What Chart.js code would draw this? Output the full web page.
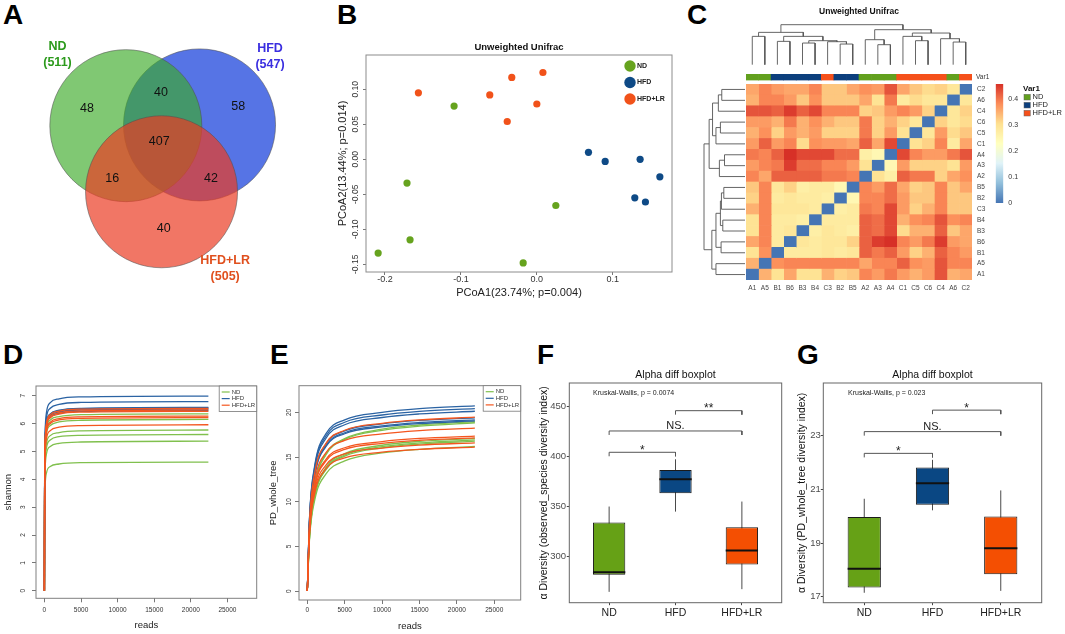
<!DOCTYPE html>
<html>
<head>
<meta charset="utf-8">
<title>Figure</title>
<script src="https://cdn.jsdelivr.net/npm/chart.js@4.4.1/dist/chart.umd.min.js"></script>
<style>
  body { margin: 0; width: 1065px; height: 634px; background: #fff; position: relative; overflow: hidden; }
  canvas { position: absolute; }
  .tag { position: absolute; font: bold 28px "Liberation Sans", Arial, sans-serif; line-height: 28px; color: #000; }
</style>
</head>
<body>
<div class="tag" style="left:3px;top:1px">A</div>
<div class="tag" style="left:337px;top:1px">B</div>
<div class="tag" style="left:687px;top:1px">C</div>
<div class="tag" style="left:3px;top:341px">D</div>
<div class="tag" style="left:270px;top:341px">E</div>
<div class="tag" style="left:537px;top:341px">F</div>
<div class="tag" style="left:797px;top:341px">G</div>

<canvas id="venn" width="330" height="270" style="left:0;top:30px"></canvas>
<canvas id="pcoa" width="368" height="280" style="left:332px;top:30px"></canvas>
<canvas id="colTree" width="226" height="66" style="left:746px;top:0"></canvas>
<canvas id="annot" width="260" height="12" style="left:746px;top:72px"></canvas>
<canvas id="rowTree" width="46" height="196" style="left:700px;top:84px"></canvas>
<canvas id="heat" width="260" height="212" style="left:746px;top:84px"></canvas>
<canvas id="cbar" width="70" height="130" style="left:995px;top:80px"></canvas>
<canvas id="shannon" width="265" height="264" style="left:0;top:370px"></canvas>
<canvas id="pd" width="265" height="264" style="left:265px;top:370px"></canvas>
<canvas id="boxObs" width="253" height="279" style="left:537px;top:355px"></canvas>
<canvas id="boxPd" width="269" height="279" style="left:796px;top:355px"></canvas>

<script>
// ---------- data ----------
const groups = ['ND', 'HFD', 'HFD+LR'];

// A: venn
const vennTotals = [511, 547, 505];
// ND only, ND&HFD, HFD only, all three, ND&HFD+LR, HFD&HFD+LR, HFD+LR only
const vennCounts = [48, 40, 58, 407, 16, 42, 40];

// B: PCoA
const pcoaNdX = [-0.109, -0.171, 0.025, -0.167, -0.209, -0.018];
const pcoaNdY = [0.076, -0.034, -0.066, -0.115, -0.134, -0.148];
const pcoaHfdX = [0.068, 0.090, 0.136, 0.162, 0.129, 0.143];
const pcoaHfdY = [0.010, -0.003, 0.000, -0.025, -0.055, -0.061];
const pcoaLrX = [-0.156, -0.062, -0.033, 0.008, 0.000, -0.039];
const pcoaLrY = [0.095, 0.092, 0.117, 0.124, 0.079, 0.054];
const pcoaXTicks = [-0.2, -0.1, 0, 0.1];
const pcoaYTicks = [-0.15, -0.1, -0.05, 0, 0.05, 0.1];

// C: unweighted unifrac distance heatmap
const heatCols = ['A1','A5','B1','B6','B3','B4','C3','B2','B5','A2','A3','A4','C1','C5','C6','C4','A6','C2'];
const heatRows = ['C2','A6','C4','C6','C5','C1','A4','A3','A2','B5','B2','C3','B4','B3','B6','B1','A5','A1'];
const heatValues = [
  [0.36,0.39,0.37,0.36,0.36,0.39,0.33,0.33,0.36,0.38,0.37,0.43,0.36,0.33,0.31,0.32,0.29,0],
  [0.35,0.39,0.39,0.37,0.33,0.38,0.33,0.33,0.33,0.36,0.30,0.40,0.28,0.31,0.29,0.29,0,0.29],
  [0.43,0.43,0.42,0.45,0.42,0.44,0.39,0.39,0.39,0.32,0.33,0.37,0.39,0.37,0.32,0,0.29,0.32],
  [0.37,0.37,0.35,0.40,0.35,0.38,0.35,0.33,0.33,0.40,0.32,0.35,0.32,0.29,0,0.32,0.29,0.31],
  [0.35,0.38,0.32,0.37,0.35,0.37,0.32,0.32,0.32,0.40,0.32,0.37,0.30,0,0.29,0.37,0.31,0.33],
  [0.37,0.42,0.37,0.39,0.31,0.38,0.37,0.37,0.36,0.42,0.36,0.44,0,0.30,0.32,0.39,0.28,0.36],
  [0.40,0.39,0.42,0.46,0.44,0.44,0.44,0.41,0.41,0.27,0.25,0,0.44,0.39,0.37,0.37,0.40,0.43],
  [0.37,0.39,0.40,0.45,0.41,0.41,0.39,0.39,0.37,0.30,0,0.25,0.37,0.32,0.32,0.32,0.30,0.37],
  [0.39,0.36,0.42,0.42,0.42,0.42,0.40,0.40,0.39,0,0.30,0.27,0.42,0.40,0.40,0.32,0.36,0.38],
  [0.33,0.39,0.29,0.32,0.27,0.28,0.28,0.25,0,0.39,0.37,0.41,0.36,0.32,0.33,0.39,0.33,0.36],
  [0.32,0.39,0.28,0.29,0.28,0.28,0.27,0,0.25,0.39,0.39,0.41,0.37,0.33,0.33,0.39,0.33,0.33],
  [0.35,0.39,0.29,0.29,0.29,0.28,0,0.27,0.28,0.40,0.39,0.44,0.37,0.32,0.35,0.39,0.33,0.33],
  [0.30,0.39,0.28,0.28,0.27,0,0.28,0.28,0.28,0.42,0.41,0.44,0.35,0.38,0.39,0.43,0.38,0.39],
  [0.30,0.39,0.28,0.29,0,0.27,0.29,0.28,0.27,0.42,0.41,0.44,0.31,0.35,0.35,0.42,0.33,0.36],
  [0.36,0.39,0.28,0,0.29,0.28,0.29,0.29,0.32,0.42,0.45,0.46,0.39,0.37,0.40,0.45,0.37,0.36],
  [0.30,0.38,0,0.28,0.28,0.28,0.29,0.28,0.29,0.42,0.40,0.42,0.37,0.32,0.35,0.42,0.39,0.37],
  [0.35,0,0.38,0.39,0.39,0.39,0.39,0.39,0.39,0.36,0.39,0.39,0.42,0.38,0.37,0.43,0.39,0.39],
  [0,0.35,0.30,0.36,0.30,0.30,0.35,0.32,0.33,0.39,0.37,0.40,0.37,0.35,0.37,0.43,0.35,0.36]
];
// hclust-style merges over heatCols: negative = leaf (1-based), positive = earlier merge; third value = height
const treeMerges = [
  [-1, -2, 85], [-3, -4, 70], [-5, -6, 65], [-8, -9, 62], [-7, 4, 69], [3, 5, 72],
  [2, 6, 85], [1, 7, 97], [-11, -12, 60], [-10, 9, 75], [-14, -15, 72], [-13, 11, 85],
  [-17, -18, 68], [-16, 13, 78], [12, 14, 95], [10, 15, 105], [8, 16, 120]
];
const colorbarTicks = [0, 0.1, 0.2, 0.3, 0.4];

// D: shannon rarefaction
const shannonReads = [0, 30, 100, 300, 800, 2000, 5000, 22400];
const shannonNd = [
  [0, 3.94, 5.21, 5.84, 6.13, 6.25, 6.32, 6.35],
  [0, 3.81, 5.04, 5.66, 5.93, 6.06, 6.12, 6.15],
  [0, 3.58, 4.73, 5.31, 5.57, 5.68, 5.74, 5.77],
  [0, 3.48, 4.60, 5.16, 5.41, 5.53, 5.58, 5.61],
  [0, 3.33, 4.40, 4.94, 5.18, 5.29, 5.34, 5.37],
  [0, 2.86, 3.79, 4.25, 4.46, 4.55, 4.60, 4.62]
];
const shannonHfd = [
  [0, 4.33, 5.73, 6.43, 6.75, 6.89, 6.96, 6.99],
  [0, 4.21, 5.57, 6.25, 6.55, 6.69, 6.76, 6.79],
  [0, 4.08, 5.40, 6.05, 6.35, 6.48, 6.55, 6.58],
  [0, 4.07, 5.38, 6.04, 6.33, 6.46, 6.53, 6.56],
  [0, 4.04, 5.35, 6.00, 6.29, 6.42, 6.49, 6.52],
  [0, 4.01, 5.31, 5.95, 6.24, 6.37, 6.44, 6.47]
];
const shannonLr = [
  [0, 4.06, 5.37, 6.03, 6.32, 6.45, 6.52, 6.55],
  [0, 4.02, 5.32, 5.97, 6.26, 6.39, 6.46, 6.49],
  [0, 3.99, 5.28, 5.92, 6.21, 6.34, 6.41, 6.44],
  [0, 3.89, 5.14, 5.77, 6.05, 6.18, 6.24, 6.27],
  [0, 3.86, 5.10, 5.72, 6.00, 6.13, 6.19, 6.22],
  [0, 3.70, 4.89, 5.48, 5.75, 5.87, 5.93, 5.96]
];
const shannonTicks = [0, 1, 2, 3, 4, 5, 6, 7];

// E: PD_whole_tree rarefaction
const pdReads = [0, 300, 1000, 2500, 5000, 10000, 15000, 22400];
const pdNd = [
  [0, 6.83, 11.96, 15.37, 17.08, 18.13, 18.60, 18.98],
  [0, 6.79, 11.88, 15.27, 16.97, 18.00, 18.47, 18.85],
  [0, 6.16, 10.77, 13.85, 15.39, 16.33, 16.76, 17.10],
  [0, 6.09, 10.67, 13.71, 15.24, 16.17, 16.59, 16.93],
  [0, 6.05, 10.58, 13.61, 15.12, 16.04, 16.46, 16.80],
  [0, 5.83, 10.21, 13.12, 14.58, 15.47, 15.88, 16.20]
];
const pdHfd = [
  [0, 8.30, 14.10, 17.63, 19.18, 20.01, 20.43, 20.74],
  [0, 8.18, 13.90, 17.37, 18.91, 19.72, 20.13, 20.44],
  [0, 8.06, 13.70, 17.12, 18.63, 19.44, 19.84, 20.14],
  [0, 7.76, 13.19, 16.49, 17.95, 18.72, 19.11, 19.40],
  [0, 7.67, 13.04, 16.29, 17.73, 18.50, 18.88, 19.17],
  [0, 7.62, 12.95, 16.19, 17.62, 18.38, 18.76, 19.05]
];
const pdLr = [
  [0, 7.79, 13.24, 16.55, 18.01, 18.79, 19.18, 19.47],
  [0, 7.30, 12.40, 15.50, 16.87, 17.60, 17.97, 18.24],
  [0, 6.94, 11.80, 14.75, 16.05, 16.74, 17.09, 17.35],
  [0, 6.86, 11.66, 14.58, 15.86, 16.55, 16.89, 17.15],
  [0, 6.64, 11.29, 14.11, 15.36, 16.02, 16.35, 16.60],
  [0, 6.45, 10.96, 13.70, 14.91, 15.56, 15.88, 16.12]
];
const pdTicks = [0, 5, 10, 15, 20];
const readsTicks = [0, 5000, 10000, 15000, 20000, 25000];

// F: observed species boxplot
const obsMin = [264, 344.6, 266.7];
const obsQ1 = [281.1, 363, 291.5];
const obsMedian = [283.8, 377.1, 305.5];
const obsQ3 = [333.6, 386.5, 328.9];
const obsMax = [349.7, 397.2, 354.7];
const obsTicks = [300, 350, 400, 450];
const obsBracketY = [404.2, 425.6, 446];
const obsSig = ['*', 'NS.', '**'];

// G: PD whole tree boxplot
const pdBoxMin = [17.15, 20.22, 17.22];
const pdBoxQ1 = [17.35, 20.43, 17.84];
const pdBoxMedian = [18.04, 21.23, 18.81];
const pdBoxQ3 = [19.97, 21.81, 19.99];
const pdBoxMax = [20.65, 22.1, 20.96];
const pdBoxTicks = [17, 19, 21, 23];
const pdBracketY = [22.34, 23.15, 23.95];
const pdSig = ['*', 'NS.', '*'];

const comparePairs = [[1, 2], [1, 3], [2, 3]];

// ---------- setup ----------
const FONT = '"Liberation Sans", Arial, sans-serif';
Chart.defaults.font.family = FONT;
Chart.defaults.color = '#222';
Chart.defaults.animation = false;
Chart.defaults.responsive = false;
Chart.defaults.events = [];
Chart.defaults.layout.autoPadding = false;
Chart.defaults.plugins.legend.display = false;
Chart.defaults.plugins.tooltip.enabled = false;

const el = id => document.getElementById(id);
const pts = (xs, ys) => xs.map((x, i) => ({ x: x, y: ys[i] }));
const setTicks = vals => s => { s.ticks = vals.map(v => ({ value: v })); };
const noPad = s => { s.paddingTop = 0; s.paddingBottom = 0; s.paddingLeft = 0; s.paddingRight = 0; };
const fixW = w => s => { s.width = w; noPad(s); };
const fixH = h => s => { s.height = h; noPad(s); };

function frame(color) {
  return { id: 'frame', afterDatasetsDraw(chart) {
    const { ctx, chartArea: a } = chart;
    ctx.save();
    ctx.strokeStyle = color;
    ctx.lineWidth = 1;
    ctx.strokeRect(a.left, a.top, a.right - a.left, a.bottom - a.top);
    ctx.restore();
  }};
}

function notes(items) {
  return { id: 'notes', afterDraw(chart) {
    const ctx = chart.ctx;
    ctx.save();
    items.forEach(t => {
      const x = t.px ? t.x : chart.scales.x.getPixelForValue(t.x);
      const y = t.px ? t.y : chart.scales.y.getPixelForValue(t.y);
      ctx.font = t.font;
      ctx.fillStyle = t.color || '#000';
      ctx.textAlign = t.align || 'center';
      ctx.textBaseline = t.base || 'middle';
      ctx.fillText(t.text, x, y + (t.dy || 0));
    });
    ctx.restore();
  }};
}

// ---------- A: venn ----------
const vennR = 76;  // px, also one venn unit
const vennCenters = [[-0.48, 0.29], [0.49, 0.30], [-0.01, -0.58]];
const vennFill = ['rgba(60,170,40,0.65)', 'rgba(30,70,220,0.75)', 'rgba(235,60,35,0.7)'];
const vennInk = ['#2c9a1c', '#3a2ee0', '#e0501e'];
const vennSpots = [[-0.99, 0.52], [-0.017, 0.73], [1.00, 0.54], [-0.04, 0.08], [-0.66, -0.40], [0.64, -0.40], [0.02, -1.07]];
const vennNameSpots = [[-1.379, 1.325], [1.417, 1.299], [0.827, -1.49]];

const vennNotes = [];
vennCounts.forEach((n, i) => vennNotes.push({ x: vennSpots[i][0], y: vennSpots[i][1], text: String(n), font: '12.5px ' + FONT, color: '#111' }));
groups.forEach((g, i) => {
  vennNotes.push({ x: vennNameSpots[i][0], y: vennNameSpots[i][1], text: g, font: 'bold 12.5px ' + FONT, color: vennInk[i] });
  vennNotes.push({ x: vennNameSpots[i][0], y: vennNameSpots[i][1] - 0.205, text: '(' + vennTotals[i] + ')', font: 'bold 12.5px ' + FONT, color: vennInk[i] });
});

new Chart(el('venn'), {
  type: 'bubble',
  data: { datasets: groups.map((g, i) => ({
    label: g,
    data: [{ x: vennCenters[i][0], y: vennCenters[i][1], r: vennR }],
    backgroundColor: vennFill[i],
    borderColor: 'rgba(80,80,80,0.55)',
    borderWidth: 1,
    order: [1, 2, 0][i],
    clip: false
  })) },
  options: {
    layout: { padding: 0 },
    scales: {
      x: { display: false, min: -162.3 / vennR, max: (330 - 162.3) / vennR },
      y: { display: false, min: -(270 - 117.7) / vennR, max: 117.7 / vennR }
    }
  },
  plugins: [notes(vennNotes)]
});

// ---------- B: PCoA ----------
const pcoaColors = ['#66a31e', '#0e4a86', '#f1521a'];
const pcoaKey = { id: 'pcoaKey', afterDraw(chart) {
  const { ctx, chartArea: a } = chart;
  ctx.save();
  groups.forEach((g, i) => {
    const y = a.top + 11 + i * 16.5;
    ctx.beginPath();
    ctx.arc(a.right - 42, y, 5.7, 0, Math.PI * 2);
    ctx.fillStyle = pcoaColors[i];
    ctx.fill();
    ctx.font = 'bold 7px ' + FONT;
    ctx.fillStyle = '#222';
    ctx.textAlign = 'left';
    ctx.textBaseline = 'middle';
    ctx.fillText(g, a.right - 35, y);
  });
  ctx.restore();
}};

new Chart(el('pcoa'), {
  type: 'scatter',
  data: { datasets: [
    { label: 'ND', data: pts(pcoaNdX, pcoaNdY), backgroundColor: pcoaColors[0], pointRadius: 3.6, borderWidth: 0 },
    { label: 'HFD', data: pts(pcoaHfdX, pcoaHfdY), backgroundColor: pcoaColors[1], pointRadius: 3.6, borderWidth: 0 },
    { label: 'HFD+LR', data: pts(pcoaLrX, pcoaLrY), backgroundColor: pcoaColors[2], pointRadius: 3.6, borderWidth: 0 }
  ]},
  options: {
    layout: { padding: { left: 0, right: 28, top: 0, bottom: 0 } },
    plugins: {
      title: { display: true, text: 'Unweighted Unifrac', fullSize: false, color: '#111',
               font: { size: 9.5, weight: 'bold' }, padding: { top: 11.3, bottom: 2.3 } }
    },
    scales: {
      x: { type: 'linear', min: -0.225, max: 0.178, afterBuildTicks: setTicks(pcoaXTicks), afterFit: fixH(38),
           ticks: { font: { size: 9 }, color: '#333', padding: -1, callback: v => v.toFixed(1) },
           grid: { drawOnChartArea: false, tickLength: 3, color: '#777' }, border: { display: false },
           title: { display: true, text: 'PCoA1(23.74%; p=0.004)', color: '#222', font: { size: 11 }, padding: { top: 0, bottom: 10.4 } } },
      y: { min: -0.161, max: 0.149, afterBuildTicks: setTicks(pcoaYTicks), afterFit: fixW(34),
           ticks: { font: { size: 8.5 }, color: '#333', minRotation: 90, maxRotation: 90, crossAlign: 'center', padding: -2.2,
                    callback: v => v.toFixed(2) },
           grid: { drawOnChartArea: false, tickLength: 3, color: '#777' }, border: { display: false },
           title: { display: true, text: 'PCoA2(13.44%; p=0.014)', color: '#222', font: { size: 11 }, padding: { top: 4.4, bottom: 0 } } }
    }
  },
  plugins: [frame('#8c8c8c'), pcoaKey]
});

// ---------- C: heatmap ----------
const heatPalette = [[69,117,180],[145,191,219],[224,243,248],[255,255,191],[254,224,144],[252,141,89],[215,48,39]];
const heatMax = 0.46;
function heatColor(v) {
  const t = Math.max(0, Math.min(1, v / heatMax)) * (heatPalette.length - 1);
  const k = Math.min(Math.floor(t), heatPalette.length - 2), f = t - k;
  const a = heatPalette[k], b = heatPalette[k + 1];
  return 'rgb(' + a.map((c, m) => Math.round(c + (b[m] - c) * f)).join(',') + ')';
}
const sampleGroup = { A: 'ND', B: 'HFD', C: 'HFD+LR' };
const annotColors = { 'ND': '#62a01e', 'HFD': '#0c3f7d', 'HFD+LR': '#f5501a' };

function treeSegments(merges) {
  const pos = [], hgt = [], segs = [];
  const at = ref => ref < 0 ? [-ref - 0.5, 0] : [pos[ref - 1], hgt[ref - 1]];
  merges.forEach(([a, b, h], k) => {
    const [xa, ha] = at(a), [xb, hb] = at(b);
    pos[k] = (xa + xb) / 2;
    hgt[k] = h;
    segs.push([[xa, ha], [xa, h], [xb, h], [xb, hb]]);
  });
  return segs;
}
const segs = treeSegments(treeMerges);
const treeLine = { showLine: true, borderColor: '#555', borderWidth: 0.9, pointRadius: 0, clip: false };

new Chart(el('colTree'), {
  type: 'scatter',
  data: { datasets: segs.map(s => Object.assign({ data: s.map(p => ({ x: p[0], y: p[1] })) }, treeLine)) },
  options: {
    layout: { padding: { top: 0, bottom: 1.3, left: 0, right: 0 } },
    plugins: { title: { display: true, text: 'Unweighted Unifrac', fullSize: false, color: '#111',
                        font: { size: 8.5, weight: 'bold' }, padding: { top: 6.9, bottom: 7.6 } } },
    scales: { x: { display: false, min: 0, max: 18 }, y: { display: false, min: 0, max: 120 } }
  }
});

new Chart(el('rowTree'), {
  type: 'scatter',
  data: { datasets: segs.map(s => Object.assign({ data: s.map(p => ({ x: p[1], y: p[0] })) }, treeLine)) },
  options: {
    layout: { padding: { top: 0, bottom: 0, left: 4, right: 1 } },
    scales: { x: { display: false, min: 0, max: 120, reverse: true }, y: { display: false, min: 0, max: 18 } }
  }
});

new Chart(el('annot'), {
  type: 'bar',
  data: { labels: heatCols, datasets: [{
    data: heatCols.map(() => [0, 1]),
    backgroundColor: heatCols.map(c => annotColors[sampleGroup[c[0]]]),
    barPercentage: 1, categoryPercentage: 1, borderWidth: 0
  }] },
  options: {
    layout: { padding: { top: 2, bottom: 3.5, left: 0, right: 34 } },
    scales: { x: { display: false }, y: { display: false, min: 0, max: 1 } }
  },
  plugins: [notes([{ px: true, x: 230, y: 5.3, text: 'Var1', font: '6.5px ' + FONT, color: '#333', align: 'left' }])]
});

new Chart(el('heat'), {
  type: 'bar',
  data: { labels: heatRows, datasets: heatCols.map((c, j) => ({
    label: c,
    data: heatRows.map(() => [j, j + 1]),
    backgroundColor: heatRows.map((r, i) => heatColor(heatValues[i][j])),
    barPercentage: 1, categoryPercentage: 1, grouped: false, borderWidth: 0
  })) },
  options: {
    indexAxis: 'y',
    layout: { padding: 0 },
    scales: {
      x: { type: 'linear', min: 0, max: 18, position: 'bottom',
           afterBuildTicks: s => { s.ticks = heatCols.map((c, j) => ({ value: j + 0.5 })); }, afterFit: fixH(16),
           ticks: { autoSkip: false, maxRotation: 0, font: { size: 6.5 }, color: '#444', padding: 4.5, callback: (v, i) => heatCols[i] },
           grid: { display: false, drawTicks: false }, border: { display: false } },
      y: { position: 'right', afterFit: fixW(34),
           ticks: { font: { size: 6.5 }, color: '#444', padding: 5 },
           grid: { display: false, drawTicks: false }, border: { display: false } }
    }
  }
});

const varKey = { id: 'varKey', afterDraw(chart) {
  const ctx = chart.ctx;
  ctx.save();
  ctx.fillStyle = '#111';
  ctx.font = 'bold 8px ' + FONT;
  ctx.textAlign = 'left';
  ctx.textBaseline = 'alphabetic';
  ctx.fillText('Var1', 28, 10.5);
  groups.forEach((g, i) => {
    const y = 14.3 + i * 8;
    ctx.fillStyle = annotColors[g];
    ctx.fillRect(29, y, 6.3, 5.7);
    ctx.strokeStyle = '#666';
    ctx.lineWidth = 0.5;
    ctx.strokeRect(29, y, 6.3, 5.7);
    ctx.fillStyle = '#222';
    ctx.font = '7.5px ' + FONT;
    ctx.textBaseline = 'middle';
    ctx.fillText(g, 37.5, y + 3);
  });
  ctx.restore();
}};

new Chart(el('cbar'), {
  type: 'bar',
  data: { labels: ['scale'], datasets: [{
    data: [[0, heatMax]],
    backgroundColor: c => {
      const ch = c.chart;
      if (!ch.chartArea) return '#fff';
      const ys = ch.scales.y;
      const g = ch.ctx.createLinearGradient(0, ys.getPixelForValue(0), 0, ys.getPixelForValue(heatMax));
      heatPalette.forEach((p, k) => g.addColorStop(k / (heatPalette.length - 1), 'rgb(' + p.join(',') + ')'));
      return g;
    },
    barPercentage: 1, categoryPercentage: 1, borderWidth: 0
  }] },
  options: {
    layout: { padding: { left: 0.7, top: 4, bottom: 7, right: 0 } },
    scales: {
      x: { display: false },
      y: { position: 'right', min: 0, max: heatMax, afterBuildTicks: setTicks(colorbarTicks), afterFit: fixW(61.7),
           ticks: { font: { size: 7 }, color: '#333', padding: 5, callback: v => String(v) },
           grid: { display: false, drawTicks: false }, border: { display: false } }
    }
  },
  plugins: [varKey]
});

// ---------- D, E: rarefaction ----------
const rareColors = ['#80c04e', '#2b63a3', '#f4561f'];
function lineKey(w, h, rowsY, lineX, textX) {
  return { id: 'lineKey', afterDraw(chart) {
    const { ctx, chartArea: a } = chart;
    const x0 = a.right - w, y0 = a.top;
    ctx.save();
    ctx.fillStyle = '#fff';
    ctx.fillRect(x0, y0, w, h);
    ctx.strokeStyle = '#777';
    ctx.lineWidth = 0.8;
    ctx.strokeRect(x0, y0, w, h);
    ctx.font = '6px ' + FONT;
    ctx.textAlign = 'left';
    ctx.textBaseline = 'middle';
    groups.forEach((g, i) => {
      ctx.strokeStyle = rareColors[i];
      ctx.lineWidth = 1.2;
      ctx.beginPath();
      ctx.moveTo(x0 + lineX[0], y0 + rowsY[i]);
      ctx.lineTo(x0 + lineX[1], y0 + rowsY[i]);
      ctx.stroke();
      ctx.fillStyle = '#333';
      ctx.fillText(g, x0 + textX, y0 + rowsY[i]);
    });
    ctx.restore();
  }};
}

function rareChart(id, reads, sets, g) {
  const datasets = [];
  sets.forEach((rows, gi) => rows.forEach(vals => datasets.push({
    label: groups[gi],
    data: reads.map((r, k) => ({ x: r, y: vals[k] })),
    borderColor: rareColors[gi], borderWidth: 1.3, pointRadius: 0,
    cubicInterpolationMode: 'monotone', order: 2 - gi
  })));
  return new Chart(el(id), {
    type: 'line',
    data: { datasets: datasets },
    options: {
      layout: { padding: { left: 0, top: g.top, right: g.right, bottom: 0 } },
      scales: {
        x: { type: 'linear', min: g.xMin, max: g.xMax, afterBuildTicks: setTicks(readsTicks), afterFit: fixH(g.xh),
             ticks: { font: { size: 6.5 }, color: '#333', padding: g.xPad, maxRotation: 0, autoSkip: false, callback: v => String(v) },
             grid: { drawOnChartArea: false, tickLength: 4, color: '#777' }, border: { display: false },
             title: { display: true, text: 'reads', color: '#222', font: { size: 9.5 }, padding: { top: 0, bottom: g.xtPad } } },
        y: { min: g.yMin, max: g.yMax, afterBuildTicks: setTicks(g.yTicks), afterFit: fixW(g.yw),
             ticks: { font: { size: 6.5 }, color: '#333', minRotation: 90, maxRotation: 90, crossAlign: 'center', padding: g.yPad,
                      callback: v => String(v) },
             grid: { drawOnChartArea: false, tickLength: 4, color: '#777' }, border: { display: false },
             title: { display: true, text: g.yTitle, color: '#222', font: { size: 9.5 }, padding: { top: 2.6, bottom: 0 } } }
      }
    },
    plugins: [frame('#808080'), lineKey(37.5, 25.5, [6, 12.6, 19.2], [2.5, 10.5], 12.5)]
  });
}

rareChart('shannon', shannonReads, [shannonNd, shannonHfd, shannonLr], {
  top: 16, right: 8.3, xh: 35.7, yw: 36, xMin: -1150, xMax: 29000, yMin: -0.27, yMax: 7.35,
  yTicks: shannonTicks, xPad: 4.5, xtPad: 3.3, yPad: 7.2, yTitle: 'shannon'
});
rareChart('pd', pdReads, [pdNd, pdHfd, pdLr], {
  top: 15.7, right: 9.3, xh: 34, yw: 34, xMin: -1110, xMax: 28530, yMin: -1, yMax: 23,
  yTicks: pdTicks, xPad: 2.8, xtPad: 2.3, yPad: 2.1, yTitle: 'PD_whole_tree'
});

// ---------- F, G: boxplots ----------
const boxFill = ['#66a116', '#0a4783', '#f44f02'];
const boxWidth = 0.487;

function boxChart(id, st, g) {
  const datasets = [];
  groups.forEach((grp, i) => datasets.push({
    type: 'line', data: [{ x: i + 1, y: st.min[i] }, { x: i + 1, y: st.max[i] }],
    borderColor: '#4a4a4a', borderWidth: 1, pointRadius: 0, order: 3
  }));
  datasets.push({
    type: 'bar', data: groups.map((grp, i) => ({ x: i + 1, y: [st.q1[i], st.q3[i]] })),
    backgroundColor: boxFill, borderColor: '#1a1a1a', borderWidth: 1, borderSkipped: false,
    barPercentage: boxWidth, categoryPercentage: 1, order: 2
  });
  groups.forEach((grp, i) => datasets.push({
    type: 'line', data: [{ x: i + 1 - boxWidth / 2, y: st.med[i] }, { x: i + 1 + boxWidth / 2, y: st.med[i] }],
    borderColor: '#111', borderWidth: 2, pointRadius: 0, order: 1
  }));
  comparePairs.forEach((p, k) => datasets.push({
    type: 'line',
    data: [{ x: p[0], y: st.brY[k] - g.tip }, { x: p[0], y: st.brY[k] }, { x: p[1], y: st.brY[k] }, { x: p[1], y: st.brY[k] - g.tip }],
    borderColor: '#555', borderWidth: 1, pointRadius: 0, order: 0
  }));
  const labels = [{ x: g.kwX, y: g.kwY, text: g.kwText, font: '7px ' + FONT, color: '#222', align: 'left' }];
  comparePairs.forEach((p, k) => {
    const ns = st.sig[k] === 'NS.';
    labels.push({ x: (p[0] + p[1]) / 2, y: st.brY[k], text: st.sig[k], base: 'alphabetic',
                  dy: ns ? -1.5 : 1.5, font: (ns ? '11px ' : '12px ') + FONT, color: '#222' });
  });
  return new Chart(el(id), {
    type: 'bar',
    data: { datasets: datasets },
    options: {
      layout: { padding: { left: 0, top: 0, right: g.right, bottom: 0 } },
      plugins: { title: { display: true, text: 'Alpha diff boxplot', fullSize: false, color: '#111',
                          font: { size: 10.5, weight: 'normal' }, padding: { top: 13.7, bottom: 1.7 } } },
      scales: {
        x: { type: 'linear', min: 0.4, max: 3.6, offset: false, afterBuildTicks: setTicks([1, 2, 3]), afterFit: fixH(31.3),
             ticks: { autoSkip: false, maxRotation: 0, font: { size: 10.5 }, color: '#222', padding: 1.2, callback: (v, i) => groups[i] },
             grid: { offset: false, drawOnChartArea: false, tickLength: 2.5, color: '#444' }, border: { display: false } },
        y: { min: g.yMin, max: g.yMax, afterBuildTicks: setTicks(g.yTicks), afterFit: fixW(g.yw),
             ticks: { font: { size: 9.5 }, color: '#4d4d4d', padding: g.yPad },
             grid: { drawOnChartArea: false, tickLength: 2.5, color: '#444' }, border: { display: false },
             title: { display: true, text: g.yTitle, color: '#111', font: { size: 10.5 }, padding: { top: g.ytPad, bottom: 0 } } }
      }
    },
    plugins: [frame('#666'), notes(labels)]
  });
}

boxChart('boxObs',
  { min: obsMin, q1: obsQ1, med: obsMedian, q3: obsQ3, max: obsMax, brY: obsBracketY, sig: obsSig },
  { right: 8.3, yw: 32.3, yMin: 253.1, yMax: 473.8, yTicks: obsTicks, yPad: 0.8, ytPad: 0.7, tip: 4,
    kwX: 0.757, kwY: 463.5, kwText: 'Kruskal-Wallis, p = 0.0074',
    yTitle: 'α Diversity (observed_species diversity index)' });

boxChart('boxPd',
  { min: pdBoxMin, q1: pdBoxQ1, med: pdBoxMedian, q3: pdBoxQ3, max: pdBoxMax, brY: pdBracketY, sig: pdSig },
  { right: 23.3, yw: 27.3, yMin: 16.78, yMax: 24.96, yTicks: pdBoxTicks, yPad: 0, ytPad: 0.2, tip: 0.15,
    kwX: 0.762, kwY: 24.58, kwText: 'Kruskal-Wallis, p = 0.023',
    yTitle: 'α Diversity (PD_whole_tree diversity index)' });
</script>
</body>
</html>
